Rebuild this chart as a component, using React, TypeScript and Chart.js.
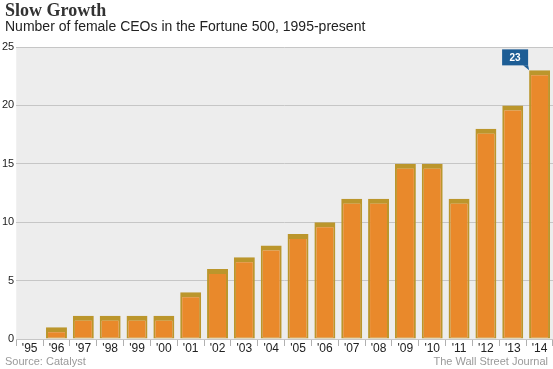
import React, { useEffect, useRef } from "react";
import { Chart, registerables } from "chart.js";

Chart.register(...registerables);

const years = ["'95", "'96", "'97", "'98", "'99", "'00", "'01", "'02", "'03", "'04", "'05", "'06", "'07", "'08", "'09", "'10", "'11", "'12", "'13", "'14"];
const ceoCounts = [0, 1, 2, 2, 2, 2, 4, 6, 7, 8, 9, 10, 12, 12, 15, 15, 12, 18, 20, 23];
const yMin = 0;
const yMax = 25;
const yStep = 5;
const titleText = "Slow Growth";
const subtitleText = "Number of female CEOs in the Fortune 500, 1995-present";
const sourceText = "Source: Catalyst";
const creditText = "The Wall Street Journal";

const textPlugin = {
  id: "wsjText",
  beforeDraw(chart: any) {
    const { ctx, chartArea, width } = chart;
    ctx.save();
    ctx.fillStyle = "#ededed";
    ctx.fillRect(chartArea.left, chartArea.top, chartArea.right - chartArea.left, chartArea.bottom - chartArea.top);
    ctx.textBaseline = "alphabetic";
    ctx.textAlign = "left";
    ctx.fillStyle = "#333333";
    ctx.font = "bold 18px 'Liberation Serif', serif";
    ctx.fillText(titleText, 5, 16);
    ctx.fillStyle = "#222222";
    ctx.font = "14px 'Liberation Sans', Arial, sans-serif";
    ctx.fillText(subtitleText, 5, 31);
    ctx.fillStyle = "#9a9a9a";
    ctx.font = "11px 'Liberation Sans', Arial, sans-serif";
    ctx.fillText(sourceText, 5, 365);
    ctx.textAlign = "right";
    ctx.fillText(creditText, width - 5, 365);
    ctx.restore();
  },
  afterDatasetsDraw(chart: any) {
    const { ctx } = chart;
    const meta = chart.getDatasetMeta(0);
    const idx = ceoCounts.length - 1;
    const el = meta.data[idx];
    if (!el) return;
    const barLeft = el.x - el.width / 2;
    const right = barLeft - 1;
    const bottom = el.y - 5;
    const w = 26;
    const h = 16;
    ctx.save();
    ctx.fillStyle = "#1d5d95";
    ctx.fillRect(right - w, bottom - h, w, h);
    ctx.beginPath();
    ctx.moveTo(right - 5, bottom);
    ctx.lineTo(right, bottom);
    ctx.lineTo(right + 1, el.y);
    ctx.closePath();
    ctx.fill();
    ctx.fillStyle = "#ffffff";
    ctx.font = "bold 10px 'Liberation Sans', Arial, sans-serif";
    ctx.textAlign = "center";
    ctx.textBaseline = "middle";
    ctx.fillText(String(ceoCounts[idx]), right - w / 2, bottom - h / 2 + 0.5);
    ctx.restore();
  },
};

export default function App() {
  const ref = useRef<HTMLCanvasElement | null>(null);
  useEffect(() => {
    if (!ref.current) return;
    const chart = new Chart(ref.current, {
      type: "bar",
      data: {
        labels: years,
        datasets: [
          {
            data: ceoCounts,
            backgroundColor: "#e9892b",
            borderColor: "#bb962c",
            borderWidth: { top: 5, left: 2, right: 2, bottom: 1 },
            borderSkipped: false,
            barPercentage: 0.78,
            categoryPercentage: 1,
          },
        ],
      },
      options: {
        animation: false,
        responsive: false,
        maintainAspectRatio: false,
        layout: { padding: { top: 47, right: 0, left: 0, bottom: 17 } },
        plugins: {
          legend: { display: false },
          tooltip: { enabled: false },
          title: { display: false },
        },
        scales: {
          x: {
            offset: true,
            grid: {
              display: true,
              offset: true,
              drawOnChartArea: false,
              drawTicks: true,
              tickLength: 7,
              color: "#b0b0b0",
            },
            border: { display: false },
            ticks: {
              color: "#222222",
              font: { family: "'Liberation Sans', Arial, sans-serif", size: 12, lineHeight: 1 },
              padding: -3,
              maxRotation: 0,
              autoSkip: false,
            },
          },
          y: {
            min: yMin,
            max: yMax,
            grid: { color: "#c6c6c6", drawTicks: false, lineWidth: 1 },
            border: { display: false },
            ticks: {
              stepSize: yStep,
              color: "#222222",
              font: { family: "'Liberation Sans', Arial, sans-serif", size: 11 },
              padding: 2,
            },
          },
        },
      },
      plugins: [textPlugin],
    });
    return () => chart.destroy();
  }, []);
  return (
    <div style={{ position: "absolute", left: 0, top: 0, width: 553, height: 369, background: "#ffffff" }}>
      <canvas ref={ref} width={553} height={369} style={{ width: 553, height: 369 }} />
    </div>
  );
}
